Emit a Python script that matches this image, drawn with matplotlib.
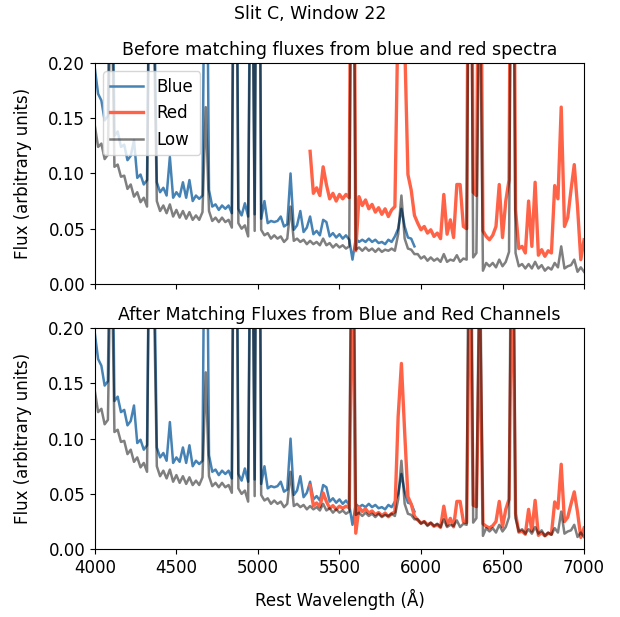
import numpy as np
import matplotlib
matplotlib.use("Agg")
import matplotlib.pyplot as plt

plt.rcParams['font.size'] = 12

# Flux, in units of 1e-3 (arbitrary), one value every 20 A.
# Values above 200 are lines that run off the top of the axes.

# Low-resolution spectrum, 4000 - 7000 A
low_flux = [
    143, 124, 127, 113, 117, 300, 106, 108, 97, 98,
    86, 90, 79, 83, 74, 78, 70, 400, 250, 75,
    66, 71, 64, 72, 61, 67, 60, 66, 59, 65,
    58, 62, 58, 65, 160, 66, 57, 60, 56, 60,
    56, 58, 51, 500, 55, 50, 53, 43, 400, 48,
    600, 49, 44, 46, 41, 44, 41, 43, 38, 41,
    70, 39, 41, 38, 40, 36, 39, 36, 38, 35,
    41, 35, 37, 33, 36, 33, 35, 32, 34, 500,
    31, 33, 30, 33, 30, 32, 29, 32, 29, 31,
    30, 32, 30, 45, 80, 41, 32, 31, 27, 27,
    23, 25, 21, 24, 21, 23, 20, 27, 20, 22,
    21, 26, 20, 23, 22, 500, 24, 28, 300, 12,
    19, 16, 19, 15, 22, 16, 20, 29, 500, 28,
    16, 18, 14, 18, 14, 20, 14, 17, 12, 15,
    13, 19, 15, 34, 14, 16, 17, 22, 11, 15,
    11,
]

# Blue channel, 4000 - 5960 A
blue_flux = [
    195, 172, 166, 148, 152, 400, 134, 138, 124, 126,
    112, 116, 130, 96, 99, 90, 94, 400, 300, 92,
    83, 87, 80, 115, 78, 83, 79, 92, 78, 94,
    75, 80, 77, 80, 450, 85, 70, 72, 67, 71,
    68, 71, 64, 600, 68, 62, 73, 61, 450, 63,
    700, 59, 75, 55, 57, 56, 57, 61, 52, 54,
    100, 49, 53, 66, 47, 51, 61, 45, 48, 44,
    58, 56, 43, 46, 42, 45, 41, 44, 40, 22,
    41, 38, 40, 38, 41, 38, 40, 37, 38, 36,
    40, 38, 43, 50, 68, 52, 42, 41, 34,
]

# Red channel, 5320 - 7000 A
red_flux = [
    120, 82, 87, 80, 106, 90, 77, 82, 75, 81,
    77, 81, 78, 600, 30, 79, 71, 76, 68, 72,
    65, 69, 63, 68, 61, 67, 70, 250, 350, 220,
    99, 85, 62, 55, 49, 52, 46, 49, 43, 46,
    41, 81, 45, 58, 42, 90, 90, 52, 50, 600,
    83, 80, 450, 48, 43, 40, 44, 52, 90, 42,
    75, 94, 600, 67, 32, 34, 28, 75, 34, 92,
    26, 31, 25, 30, 28, 89, 77, 160, 52, 60,
    85, 108, 70, 22, 40,
]

# factor applied to the red channel to match the blue one
red_match_factor = 0.48

wave_low = np.arange(4000, 7001, 20)
wave_blue = np.arange(4000, 5961, 20)
wave_red = np.arange(5320, 7001, 20)

low = np.array(low_flux) / 1000.0
blue = np.array(blue_flux) / 1000.0
red = np.array(red_flux) / 1000.0

fig, (ax1, ax2) = plt.subplots(2, 1, figsize=(6.2, 6.17), dpi=100, sharex=True)
fig.subplots_adjust(left=0.153, right=0.942, bottom=0.110, top=0.898, hspace=0.2)
fig.suptitle('Slit C, Window 22', y=0.992, fontsize=12.5)

# Before matching
ax1.plot(wave_blue, blue, color='steelblue', lw=1.8, label='Blue')
ax1.plot(wave_red, red, color='tomato', lw=2.4, label='Red')
ax1.plot(wave_low, low, color='k', alpha=0.5, lw=1.8, label='Low')
ax1.set_title('Before matching fluxes from blue and red spectra', fontsize=12.5)
ax1.legend(loc='upper left')

# After matching
ax2.plot(wave_blue, blue, color='steelblue', lw=1.8)
ax2.plot(wave_red, red * red_match_factor, color='tomato', lw=2.4)
ax2.plot(wave_low, low, color='k', alpha=0.5, lw=1.8)
ax2.set_title('After Matching Fluxes from Blue and Red Channels', fontsize=12.5)
ax2.set_xlabel('Rest Wavelength (\u00c5)', labelpad=9)

for ax in (ax1, ax2):
    ax.set_xlim(4000, 7000)
    ax.set_ylim(0, 0.2)
    ax.set_yticks([0, 0.05, 0.10, 0.15, 0.20])
    ax.yaxis.set_major_formatter(matplotlib.ticker.FormatStrFormatter('%.2f'))
    ax.set_ylabel('Flux (arbitrary units)', labelpad=12)

ax2.set_xticks([4000, 4500, 5000, 5500, 6000, 6500, 7000])

plt.savefig('out.png')
plt.close()
